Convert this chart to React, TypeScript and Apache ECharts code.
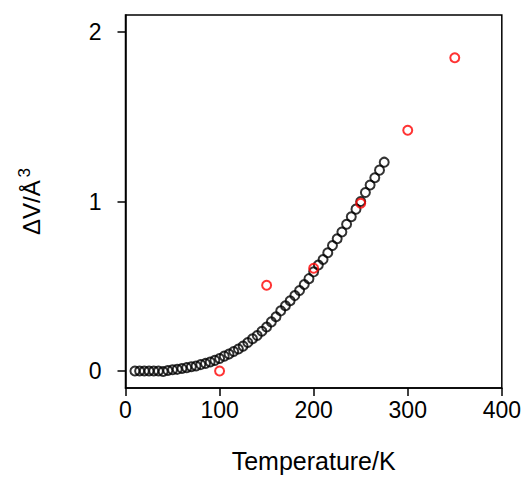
import React, { useEffect, useRef } from "react";
import * as echarts from "echarts";

const tempBlack = [10, 15, 20, 25, 30, 35, 40, 45, 50, 55, 60, 65, 70, 75, 80, 85, 90, 95, 100, 105, 110, 115, 120, 125, 130, 135, 140, 145, 150, 155, 160, 165, 170, 175, 180, 185, 190, 195, 200, 205, 210, 215, 220, 225, 230, 235, 240, 245, 250, 255, 260, 265, 270, 275];
const dvBlack = [0, 0, 0, 0, 0, 0, -0.003, 0.003, 0.008, 0.01, 0.015, 0.02, 0.025, 0.03, 0.038, 0.045, 0.053, 0.063, 0.074, 0.088, 0.1, 0.115, 0.13, 0.147, 0.168, 0.19, 0.21, 0.235, 0.26, 0.29, 0.32, 0.355, 0.385, 0.415, 0.445, 0.475, 0.51, 0.545, 0.585, 0.625, 0.658, 0.698, 0.74, 0.78, 0.82, 0.866, 0.91, 0.955, 1.0, 1.053, 1.097, 1.14, 1.185, 1.232];

const tempRed = [100, 150, 200, 250, 300, 350];
const dvRed = [0, 0.506, 0.606, 0.99, 1.42, 1.848];

const xTicks = [0, 100, 200, 300, 400];
const yTicks = [0, 1, 2];

const FONT = "Arial, 'Liberation Sans', sans-serif";

export default function App() {
  const ref = useRef<HTMLDivElement>(null);
  useEffect(() => {
    if (!ref.current) return;
    const chart = echarts.init(ref.current, null, { renderer: "svg" });
    chart.setOption({
      animation: false,
      backgroundColor: "#fff",
      grid: {
        left: 125.5,
        right: 20.7,
        top: 15,
        bottom: 85.7,
        show: true,
        borderColor: "#000",
        borderWidth: 1.5,
      },
      xAxis: {
        type: "value",
        min: 0,
        max: 400,
        name: "Temperature/K",
        nameLocation: "middle",
        nameGap: 60,
        nameTextStyle: { fontFamily: FONT, fontSize: 25, color: "#000" },
        axisLine: { show: true, onZero: false, lineStyle: { color: "#000", width: 1.5 } },
        axisTick: { show: true, length: 8, lineStyle: { color: "#000", width: 1.5 }, customValues: xTicks },
        axisLabel: { fontFamily: FONT, fontSize: 23, color: "#000", margin: 10, customValues: xTicks },
        splitLine: { show: false },
      },
      yAxis: {
        type: "value",
        min: -0.1,
        max: 2.1,
        name: "{a|ΔV/Å}{b|3}",
        nameLocation: "middle",
        nameGap: 78,
        nameTextStyle: {
          fontFamily: FONT,
          color: "#000",
          rich: {
            a: { fontFamily: FONT, fontSize: 24, color: "#000", lineHeight: 32 },
            b: { fontFamily: FONT, fontSize: 17, color: "#000", verticalAlign: "top", lineHeight: 32, padding: [0, 0, 0, 3] },
          },
        },
        axisLine: { show: true, onZero: false, lineStyle: { color: "#000", width: 1.5 } },
        axisTick: { show: true, length: 8, lineStyle: { color: "#000", width: 1.5 }, customValues: yTicks },
        axisLabel: { fontFamily: FONT, fontSize: 23, color: "#000", margin: 24, customValues: yTicks },
        splitLine: { show: false },
      },
      series: [
        {
          type: "scatter",
          data: tempBlack.map((t, i) => [t, dvBlack[i]]),
          symbol: "circle",
          symbolSize: 9,
          itemStyle: { color: "rgba(0,0,0,0)", borderColor: "#000", borderWidth: 2 },
          emphasis: { disabled: true },
        },
        {
          type: "scatter",
          data: tempRed.map((t, i) => [t, dvRed[i]]),
          symbol: "circle",
          symbolSize: 9,
          itemStyle: { color: "rgba(0,0,0,0)", borderColor: "#ff0000", borderWidth: 2 },
          emphasis: { disabled: true },
        },
      ],
    });
    return () => chart.dispose();
  }, []);
  return (
    <div
      ref={ref}
      style={{ position: "fixed", left: 0, top: 0, width: 524, height: 478 }}
    />
  );
}
